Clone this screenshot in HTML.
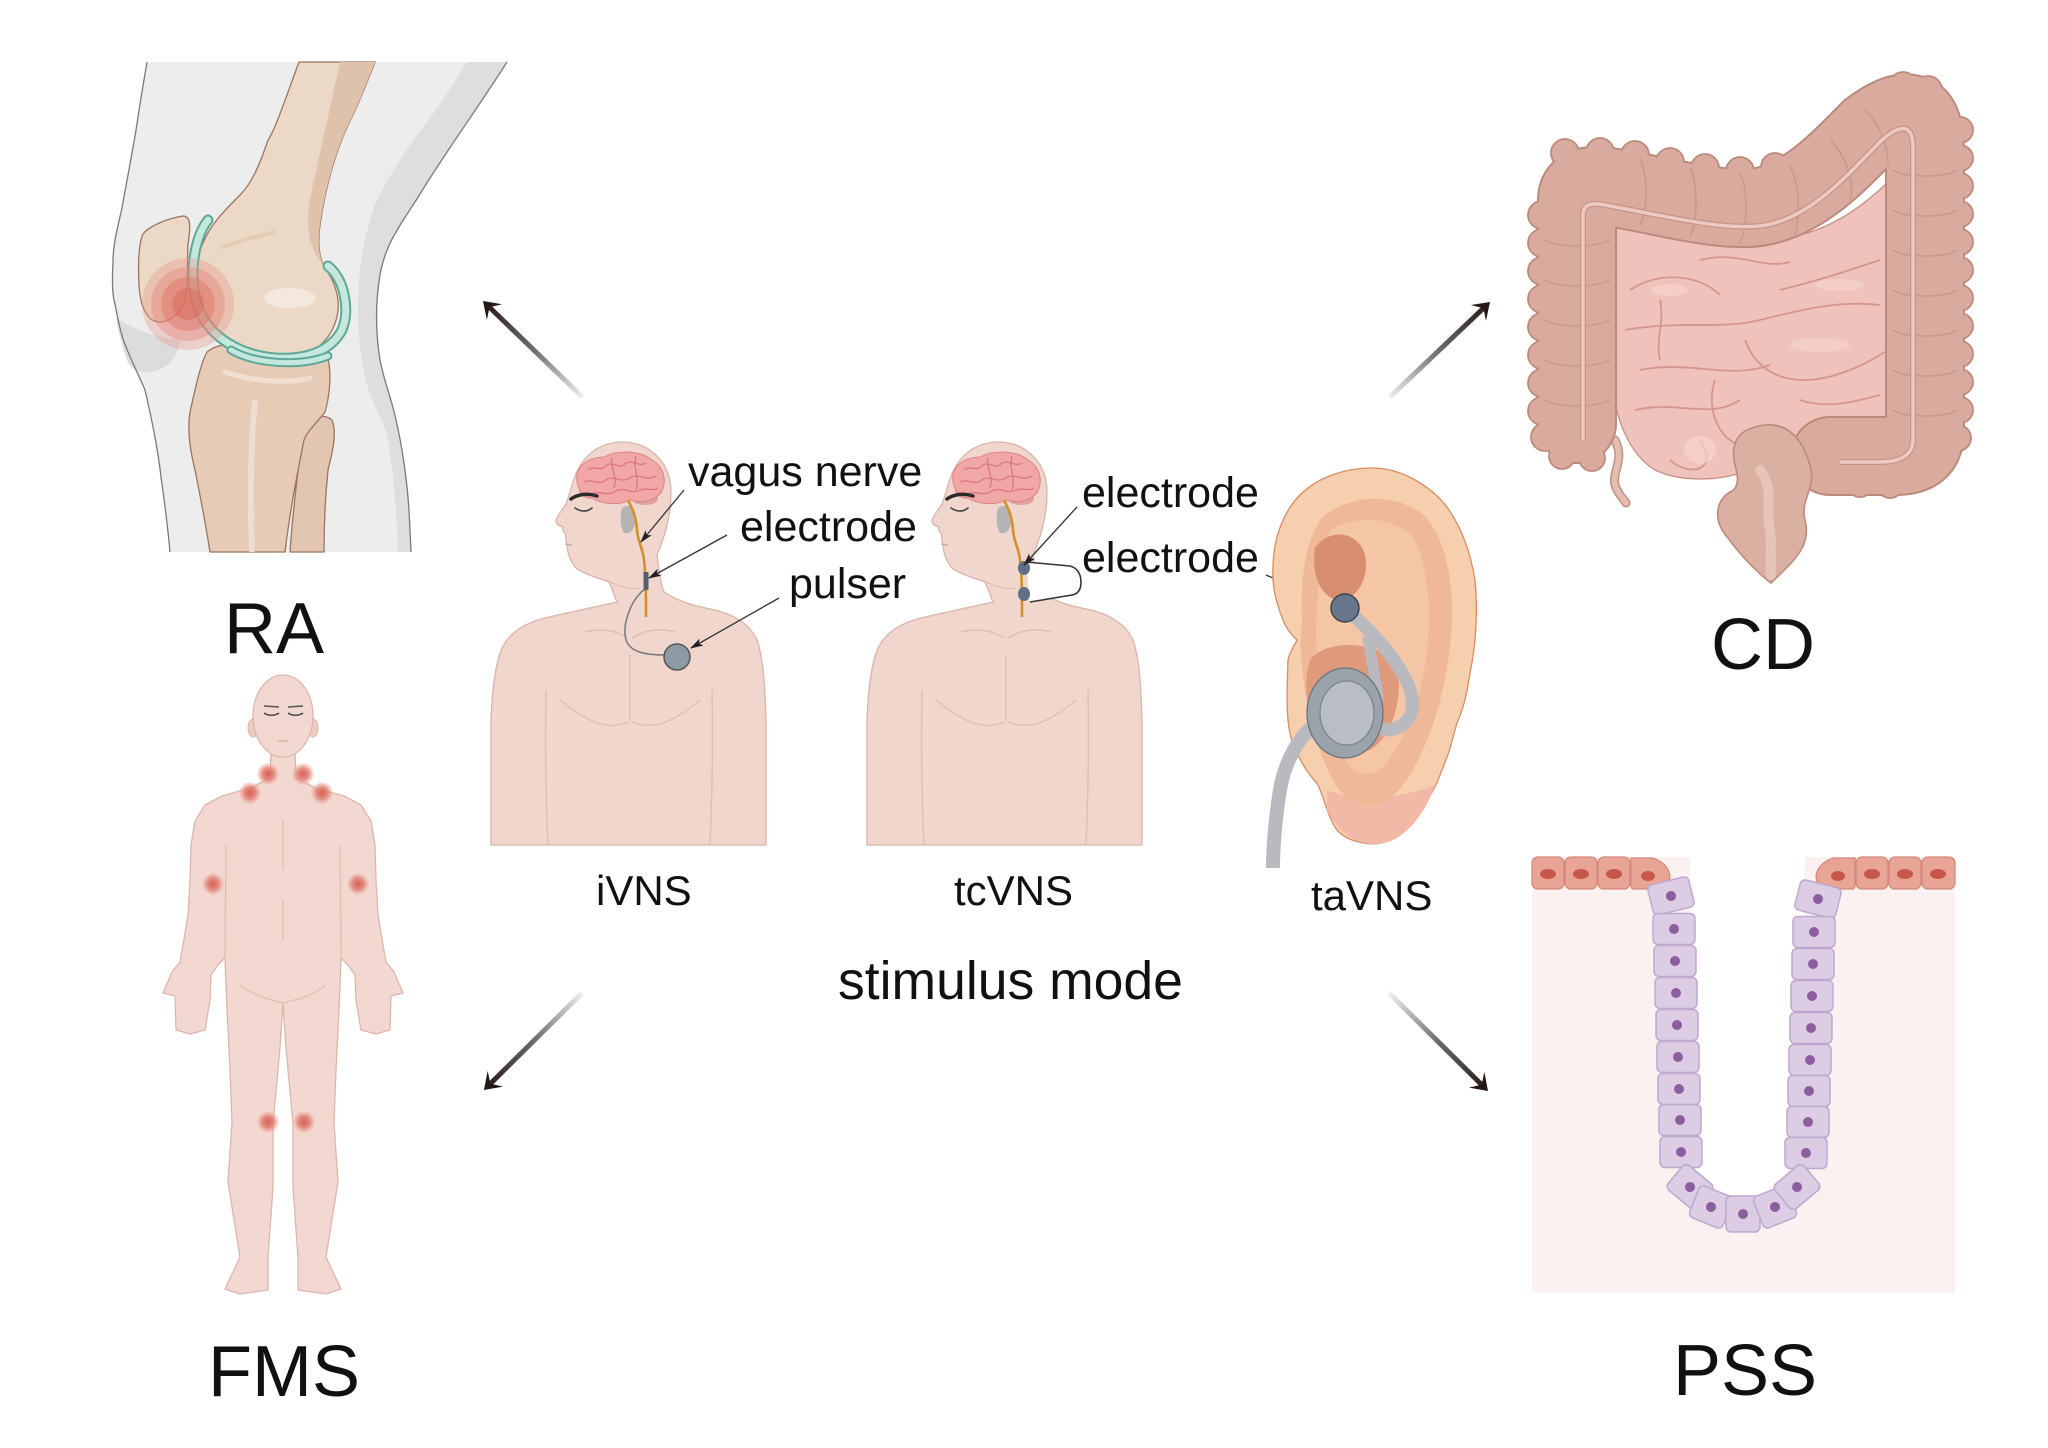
<!DOCTYPE html>
<html><head><meta charset="utf-8">
<style>
html,body{margin:0;padding:0;background:#fff;}
svg{display:block;}
text{font-family:"Liberation Sans",Arial,sans-serif;fill:#111;}
</style></head>
<body>
<svg width="2048" height="1448" viewBox="0 0 2048 1448" xmlns="http://www.w3.org/2000/svg">
<defs>
  <linearGradient id="ag" x1="-140" y1="0" x2="0" y2="0" gradientUnits="userSpaceOnUse">
    <stop offset="0" stop-color="#f2f2f2"/>
    <stop offset="0.5" stop-color="#6e6a6a"/>
    <stop offset="1" stop-color="#231815"/>
  </linearGradient>
  <radialGradient id="spot">
    <stop offset="0" stop-color="#d65f55"/>
    <stop offset="0.55" stop-color="#e3847a" stop-opacity="0.9"/>
    <stop offset="1" stop-color="#f0b4aa" stop-opacity="0.25"/>
  </radialGradient>
  <marker id="ah" markerWidth="13" markerHeight="10" refX="12" refY="5" orient="auto" markerUnits="userSpaceOnUse">
    <path d="M0,1 L13,5 L0,9 L3,5 Z" fill="#222"/>
  </marker>
</defs>

<rect width="2048" height="1448" fill="#fff"/>

<!-- ================= KNEE (RA) ================= -->
<g id="knee">
  <path d="M147,62 L507,62 C480,105 440,160 417,199 C400,225 385,245 380,275 C375,305 376,335 380,360 C385,385 392,400 396,420 C402,445 407,480 409,510 L411,552 L170,552 C168,530 165,505 161,477 C158,450 152,420 145,390 C140,378 132,362 126,347 C121,335 118,320 115,304 C112,295 112,280 113,262 C113,245 117,230 122,208 C126,185 131,160 136,130 C139,110 143,85 147,62 Z" fill="#ededed"/>
  <path d="M467,62 L507,62 C480,105 440,160 417,199 C400,225 385,245 380,275 C375,305 376,335 380,360 C385,385 392,400 396,420 C402,445 407,480 409,510 L411,552 L398,552 C396,500 392,460 387,434 C378,410 368,395 365,375 C358,345 356,310 360,269 C364,240 370,220 375,204 C390,175 405,150 421,130 C440,105 455,82 467,62 Z" fill="#dedede"/>
  <path d="M116,318 C135,330 160,338 180,340 C178,355 170,368 152,372 C140,373 130,370 127,360 C122,345 118,330 116,318 Z" fill="#dcdcdc"/>
  <path d="M147,62 C143,85 139,110 136,130 C131,160 126,185 122,208 C117,230 113,245 113,262 C112,280 112,295 115,304 C118,320 121,335 126,347 C132,362 140,378 145,390 C152,420 158,450 161,477 C165,505 168,530 170,552" fill="none" stroke="#7a7a7a" stroke-width="1.3"/>
  <path d="M507,62 C480,105 440,160 417,199 C400,225 385,245 380,275 C375,305 376,335 380,360 C385,385 392,400 396,420 C402,445 407,480 409,510 L411,552" fill="none" stroke="#7a7a7a" stroke-width="1.3"/>

  <path d="M300,430 C308,418 322,412 332,420 C337,432 333,450 328,470 C325,500 324,530 324,552 L290,552 C292,520 296,490 298,470 C298,455 298,440 300,430 Z" fill="#e2c6b1" stroke="#9c7462" stroke-width="1.3"/>
  <path d="M207,352 C215,345 230,342 250,346 C280,355 310,358 327,356 C332,370 330,395 325,412 C315,425 308,430 304,440 C298,470 290,510 285,552 L210,552 C205,520 200,495 195,470 C190,450 187,430 190,412 C195,390 200,365 207,352 Z" fill="#e6cbb7" stroke="#9c7462" stroke-width="1.3"/>
  <path d="M225,372 C250,380 285,385 310,378" fill="none" stroke="#f0dfd1" stroke-width="5" stroke-linecap="round"/>
  <path d="M255,400 C250,450 250,500 252,552" fill="none" stroke="#efddd0" stroke-width="6"/>
  <path d="M299,62 C285,100 275,130 268,140 C258,170 250,185 240,195 C225,210 210,225 203,243 C195,258 193,285 200,305 C210,330 225,343 245,352 C262,360 290,362 310,352 C330,342 340,320 338,300 C336,285 330,275 324,266 C318,255 318,240 320,225 C325,190 335,150 352,117 C360,100 368,80 375,62 Z" fill="#ebd8c6" stroke="#9c7462" stroke-width="1.3"/>
  <path d="M340,62 L375,62 C368,80 360,100 352,117 C335,150 325,190 320,225 C318,240 318,255 324,266 C310,250 305,230 310,200 C318,160 330,110 340,62 Z" fill="#dfc2ac"/>
  <ellipse cx="290" cy="298" rx="26" ry="10" fill="#f4e8dd"/>
  <path d="M222,248 C240,240 258,236 275,232" fill="none" stroke="#e4cbb6" stroke-width="4"/>
  <path d="M208,220 C192,240 188,285 200,312 C212,338 240,355 275,358 C305,360 330,352 342,330 C350,310 345,280 328,266" fill="none" stroke="#5fa897" stroke-width="11" stroke-linecap="round"/>
  <path d="M208,220 C192,240 188,285 200,312 C212,338 240,355 275,358 C305,360 330,352 342,330 C350,310 345,280 328,266" fill="none" stroke="#c4e8dd" stroke-width="7" stroke-linecap="round"/>
  <path d="M231,350 C255,364 300,367 328,356" fill="none" stroke="#5fa897" stroke-width="9" stroke-linecap="round"/>
  <path d="M231,350 C255,364 300,367 328,356" fill="none" stroke="#c4e8dd" stroke-width="5" stroke-linecap="round"/>
  <path d="M143,234 C150,225 170,218 183,216 C192,216 190,230 188,245 C187,265 188,290 185,300 C180,315 170,322 158,322 C146,320 140,305 139,285 C138,265 138,245 143,234 Z" fill="#ecd8c6" stroke="#9c7462" stroke-width="1.3"/>
  <circle cx="188" cy="304" r="46" fill="#e8948a" fill-opacity="0.35"/>
  <circle cx="188" cy="304" r="37" fill="#e38478" fill-opacity="0.4"/>
  <circle cx="188" cy="304" r="27" fill="#de7464" fill-opacity="0.45"/>
  <circle cx="188" cy="304" r="16" fill="#d9685a" fill-opacity="0.5"/>
</g>
<text x="224" y="653" font-size="72">RA</text>

<!-- ================= ARROWS ================= -->
<g transform="translate(483,301) rotate(-136)">
  <line x1="-138" y1="0" x2="-9" y2="0" stroke="url(#ag)" stroke-width="5"/>
  <path d="M0,0 L-16,-11 L-9,0 L-16,11 Z" fill="#231815"/>
</g>
<g transform="translate(1490,302) rotate(-43.5)">
  <line x1="-138" y1="0" x2="-9" y2="0" stroke="url(#ag)" stroke-width="5"/>
  <path d="M0,0 L-16,-11 L-9,0 L-16,11 Z" fill="#231815"/>
</g>
<g transform="translate(1488,1091) rotate(44.7)">
  <line x1="-140" y1="0" x2="-9" y2="0" stroke="url(#ag)" stroke-width="5"/>
  <path d="M0,0 L-16,-11 L-9,0 L-16,11 Z" fill="#231815"/>
</g>
<g transform="translate(484,1090) rotate(135.3)">
  <line x1="-138" y1="0" x2="-9" y2="0" stroke="url(#ag)" stroke-width="5"/>
  <path d="M0,0 L-16,-11 L-9,0 L-16,11 Z" fill="#231815"/>
</g>

<!-- ================= PERSON (iVNS) ================= -->
<g id="person">
  <path d="M622,442 C650,442 671,463 671,492 C671,518 664,538 657,555 C659,570 660,582 664,592 C680,603 700,607 715,610 C735,615 750,625 757,640 C764,660 765,690 766,720 L766,845 L491,845 L491,720 C492,690 495,665 502,648 C510,632 525,623 545,618 C570,612 595,607 617,602 C614,595 612,588 609,582 C598,578 584,574 576,568 C571,562 568,555 567,546 C566,540 565,537 566,534 C563,532 562,530 563,527 C559,526 556,524 556,521 C558,514 563,509 566,504 C569,496 571,489 573,482 C580,458 598,442 622,442 Z" fill="#f0d6cd" stroke="#d9b4a9" stroke-width="1.3"/>
  <path d="M546,690 C545,740 546,800 548,845 M712,690 C713,740 712,800 710,845 M630,655 L630,720 M560,700 C590,725 610,730 628,722 M700,700 C670,725 650,730 632,722 M585,632 C600,628 615,630 628,638 M675,632 C660,628 645,630 632,638" fill="none" stroke="#dfbdb3" stroke-width="1.4"/>
  <path d="M607,580 C616,586 630,590 640,588" fill="none" stroke="#e0bcb1" stroke-width="1.2"/>
  <ellipse cx="645" cy="499" rx="13" ry="6" fill="#e0a09c"/>
  <path d="M579,488 C571,470 585,457 605,457 C615,450 640,450 652,460 C666,468 667,485 660,494 C652,502 640,503 630,500 C620,506 600,504 592,498 C584,498 580,494 579,488 Z" fill="#f2a7a7" stroke="#d98084" stroke-width="1"/>
  <path d="M588,470 C594,465 600,472 606,466 C612,460 618,470 625,464 C632,458 638,468 646,463 M584,482 C592,478 598,486 606,480 C614,474 620,484 630,478 C638,472 646,482 656,476 M592,494 C600,490 608,497 616,491 C624,486 632,495 640,490 C646,487 652,492 658,488 M612,458 C610,470 618,476 614,488 M636,456 C632,468 640,476 636,490" fill="none" stroke="#d7787e" stroke-width="1.3"/>
  <path d="M571,499 C578,494 588,493 597,496" fill="none" stroke="#2b2b2b" stroke-width="3.5" stroke-linecap="round"/>
  <path d="M575,508 C581,512 587,512 592,508" fill="none" stroke="#444" stroke-width="1.6" stroke-linecap="round"/>
  <path d="M565,544 L572,545" stroke="#c9a197" stroke-width="1.2"/>
  <path d="M622,508 C628,503 636,507 636,518 C636,528 630,535 624,533 C620,528 620,515 622,508 Z" fill="#b4b4b4"/>
  <path d="M628,500 C632,508 636,515 637,530 C638,543 643,548 644,560 C646,575 646,595 646,617" fill="none" stroke="#d4902a" stroke-width="2.6"/>
</g>
<path d="M646,588 C630,600 622,625 626,640 C630,652 645,655 665,655" fill="none" stroke="#7a7a7a" stroke-width="1.5"/>
<rect x="643.5" y="572" width="5" height="18" fill="#555f6e"/>
<circle cx="677" cy="657" r="13" fill="#8e9aa6" stroke="#555" stroke-width="1.5"/>

<use href="#person" transform="translate(376,0)"/>
<path d="M1026,562 L1070,566 C1078,568 1081,575 1081,582 C1081,590 1078,594 1072,595 L1030,602" fill="#fff" stroke="#333" stroke-width="1.6"/>
<ellipse cx="1024" cy="568" rx="6" ry="7" fill="#5f6f85"/>
<ellipse cx="1024" cy="594" rx="6" ry="7" fill="#5f6f85"/>

<g stroke="#333" stroke-width="1.3" fill="none">
  <line x1="684" y1="490" x2="641" y2="542" marker-end="url(#ah)"/>
  <line x1="727" y1="535" x2="649" y2="578" marker-end="url(#ah)"/>
  <line x1="779" y1="598" x2="691" y2="648" marker-end="url(#ah)"/>
  <line x1="1077" y1="507" x2="1024" y2="565" marker-end="url(#ah)"/>
  <line x1="1266" y1="575" x2="1331" y2="603" marker-end="url(#ah)"/>
</g>

<text x="688" y="486" font-size="43">vagus nerve</text>
<text x="740" y="541" font-size="43">electrode</text>
<text x="789" y="598" font-size="43">pulser</text>
<text x="1082" y="507" font-size="43">electrode</text>
<text x="1082" y="572" font-size="43">electrode</text>
<text x="596" y="905" font-size="42">iVNS</text>
<text x="954" y="905" font-size="42">tcVNS</text>
<text x="1311" y="910" font-size="42">taVNS</text>
<text x="838" y="999" font-size="53.5">stimulus mode</text>

<!-- ================= EAR (taVNS) ================= -->
<g id="ear">
  <path d="M1373,468 C1400,468 1430,485 1447,507 C1460,525 1470,550 1475,580 C1478,610 1476,645 1470,673 C1466,700 1462,712 1457,723 C1452,740 1450,750 1447,757 C1440,775 1435,790 1427,800 C1415,820 1405,833 1390,840 C1375,848 1350,842 1340,833 C1330,825 1325,800 1318,785 C1305,770 1293,750 1290,733 C1286,715 1287,690 1288,660 C1290,650 1295,645 1297,640 C1292,635 1287,630 1283,620 C1275,600 1272,585 1273,565 C1274,535 1285,510 1300,495 C1315,480 1340,468 1373,468 Z" fill="#f6cfae" stroke="#d98c62" stroke-width="1.3"/>
  <path d="M1327,790 C1350,800 1400,800 1435,785 C1425,815 1405,838 1385,843 C1360,848 1340,835 1327,810 Z" fill="#f2b9a6"/>
  <path d="M1320,520 C1345,495 1390,492 1420,512 C1442,530 1452,570 1452,610 C1452,660 1440,710 1425,745 C1410,780 1395,800 1375,805 C1355,808 1340,795 1330,775 C1318,750 1310,720 1305,690 C1300,660 1300,640 1302,620 C1300,580 1305,545 1320,520 Z" fill="#efb896"/>
  <path d="M1330,530 C1355,515 1395,515 1415,540 C1430,570 1432,620 1425,665 C1418,710 1400,750 1380,770 C1362,780 1348,770 1340,750 C1330,725 1322,700 1318,670 C1314,630 1316,570 1330,530 Z" fill="#f4c6a6"/>
  <path d="M1315,548 C1328,528 1358,530 1365,555 C1370,580 1355,600 1340,600 C1325,600 1310,580 1315,548 Z" fill="#d78e6f"/>
  <path d="M1310,660 C1325,640 1370,640 1395,660 C1405,690 1395,735 1370,750 C1345,760 1318,740 1310,715 C1305,695 1305,675 1310,660 Z" fill="#de9a7b"/>
  <path d="M1345,608 C1368,628 1400,660 1410,690 C1418,715 1405,730 1385,730" fill="none" stroke="#b9bac0" stroke-width="13" stroke-linecap="round"/>
  <path d="M1368,640 C1372,660 1376,680 1378,700" fill="none" stroke="#b9bac0" stroke-width="11" stroke-linecap="round"/>
  <path d="M1318,722 C1300,735 1285,760 1280,790 C1275,820 1273,850 1273,868" fill="none" stroke="#b9bac0" stroke-width="14"/>
  <ellipse cx="1345" cy="713" rx="38" ry="45" fill="#9aa3ac" stroke="#6a7480" stroke-width="1.3"/>
  <ellipse cx="1347" cy="713" rx="27" ry="32" fill="#babec4" stroke="#7a8490" stroke-width="1.3"/>
  <circle cx="1345" cy="608" r="14" fill="#67768a" stroke="#3c4450" stroke-width="1.5"/>
</g>

<!-- ================= COLON (CD) ================= -->
<g id="colon">
  <path d="M1612,220 C1680,235 1740,250 1800,235 C1840,225 1870,200 1890,180 L1890,430 C1870,440 1845,440 1820,440 L1800,445 C1770,440 1755,450 1748,470 C1720,482 1680,482 1655,470 C1630,455 1615,420 1612,380 Z" fill="#efc3bb" stroke="#c98f85" stroke-width="1.3"/>
  <g fill="none" stroke="#d4968c" stroke-width="1.8">
    <path d="M1630,290 C1660,270 1700,275 1720,295"/>
    <path d="M1625,330 C1680,320 1720,330 1760,320 C1800,310 1840,300 1880,305"/>
    <path d="M1700,260 C1740,250 1760,270 1790,262"/>
    <path d="M1640,370 C1690,360 1730,380 1770,365"/>
    <path d="M1745,340 C1760,380 1800,390 1850,370 C1870,362 1880,355 1888,350"/>
    <path d="M1635,410 C1680,400 1710,420 1740,400"/>
    <path d="M1700,440 C1720,470 1690,478 1670,460"/>
    <path d="M1800,400 C1830,410 1860,400 1880,395"/>
    <path d="M1780,290 C1820,280 1850,270 1880,260"/>
    <path d="M1715,380 C1705,410 1720,440 1740,445"/>
    <path d="M1660,300 C1665,320 1655,340 1660,360"/>
  </g>
  <g fill="#f6d3cc" opacity="0.7">
    <ellipse cx="1670" cy="290" rx="18" ry="6"/>
    <ellipse cx="1820" cy="345" rx="30" ry="7"/>
    <ellipse cx="1700" cy="450" rx="16" ry="14"/>
    <ellipse cx="1840" cy="285" rx="25" ry="6"/>
  </g>
  <path d="M1615,440 C1625,460 1612,470 1615,485 C1618,495 1625,500 1626,503" fill="none" stroke="#c08f82" stroke-width="9" stroke-linecap="round"/>
  <path d="M1615,440 C1625,460 1612,470 1615,485 C1618,495 1625,500 1626,503" fill="none" stroke="#e6bdb2" stroke-width="6" stroke-linecap="round"/>
  <path d="M1577,424 L1577,200 C1577,186 1590,184 1610,187 C1660,195 1710,210 1750,208 C1800,205 1840,160 1870,130 C1890,115 1908,108 1918,118 C1925,128 1925,140 1925,160 L1925,430 C1925,450 1915,456 1895,456 L1830,456" fill="none" stroke="#bb8a7c" stroke-width="80" stroke-linecap="round" stroke-linejoin="round"/>
  <g fill="#d9ab9e" stroke="#bb8a7c" stroke-width="1.8">
    <circle cx="1542" cy="215" r="14"/><circle cx="1542" cy="243" r="14"/><circle cx="1542" cy="271" r="14"/><circle cx="1542" cy="299" r="14"/><circle cx="1542" cy="327" r="14"/><circle cx="1542" cy="355" r="14"/><circle cx="1542" cy="383" r="14"/><circle cx="1542" cy="411" r="14"/><circle cx="1545" cy="437" r="14"/>
    <circle cx="1562" cy="456" r="13"/><circle cx="1592" cy="458" r="13"/>
    <circle cx="1960" cy="130" r="13"/><circle cx="1960" cy="158" r="13"/><circle cx="1960" cy="186" r="13"/><circle cx="1960" cy="214" r="13"/><circle cx="1960" cy="242" r="13"/><circle cx="1960" cy="270" r="13"/><circle cx="1960" cy="298" r="13"/><circle cx="1960" cy="326" r="13"/><circle cx="1960" cy="354" r="13"/><circle cx="1960" cy="382" r="13"/><circle cx="1960" cy="410" r="13"/><circle cx="1958" cy="438" r="13"/>
    <circle cx="1565" cy="153" r="14"/><circle cx="1600" cy="152" r="14"/><circle cx="1635" cy="155" r="14"/><circle cx="1670" cy="162" r="14"/><circle cx="1705" cy="168" r="14"/><circle cx="1740" cy="171" r="14"/><circle cx="1775" cy="167" r="14"/><circle cx="1808" cy="156" r="14"/><circle cx="1835" cy="136" r="14"/><circle cx="1858" cy="114" r="14"/><circle cx="1880" cy="96" r="14"/><circle cx="1903" cy="86" r="14"/><circle cx="1928" cy="90" r="14"/>
    <circle cx="1860" cy="484" r="13"/><circle cx="1890" cy="485" r="13"/><circle cx="1918" cy="478" r="13"/>
  </g>
  <path d="M1577,424 L1577,200 C1577,186 1590,184 1610,187 C1660,195 1710,210 1750,208 C1800,205 1840,160 1870,130 C1890,115 1908,108 1918,118 C1925,128 1925,140 1925,160 L1925,430 C1925,450 1915,456 1895,456 L1830,456" fill="none" stroke="#d9ab9e" stroke-width="76" stroke-linecap="round" stroke-linejoin="round"/>
  <g fill="none" stroke="#c7998b" stroke-width="1.5">
    <path d="M1545,240 C1560,248 1595,248 1610,240"/><path d="M1545,280 C1560,288 1595,288 1610,280"/><path d="M1545,320 C1560,328 1595,328 1610,320"/><path d="M1545,360 C1560,368 1595,368 1610,360"/><path d="M1545,400 C1560,408 1595,408 1610,400"/>
    <path d="M1893,170 C1905,178 1945,178 1958,170"/><path d="M1893,210 C1905,218 1945,218 1958,210"/><path d="M1893,250 C1905,258 1945,258 1958,250"/><path d="M1893,290 C1905,298 1945,298 1958,290"/><path d="M1893,330 C1905,338 1945,338 1958,330"/><path d="M1893,370 C1905,378 1945,378 1958,370"/><path d="M1893,410 C1905,418 1945,418 1958,410"/>
    <path d="M1640,158 C1648,175 1648,210 1640,225"/><path d="M1690,168 C1698,185 1698,220 1690,236"/><path d="M1740,172 C1748,190 1748,225 1740,244"/><path d="M1790,166 C1800,185 1800,215 1795,235"/><path d="M1830,140 C1845,155 1855,180 1850,200"/><path d="M1865,110 C1880,125 1888,145 1888,165"/>
  </g>
  <path d="M1583,440 L1583,215 C1583,205 1590,202 1605,205 C1660,215 1720,230 1760,226 C1810,220 1850,172 1880,142 C1898,125 1912,122 1913,145 L1913,440 C1913,455 1900,462 1880,462 L1840,462" fill="none" stroke="#c49386" stroke-width="6"/>
  <path d="M1583,440 L1583,215 C1583,205 1590,202 1605,205 C1660,215 1720,230 1760,226 C1810,220 1850,172 1880,142 C1898,125 1912,122 1913,145 L1913,440 C1913,455 1900,462 1880,462 L1840,462" fill="none" stroke="#ecc9c2" stroke-width="3.5"/>
  <path d="M1752,428 C1775,420 1800,425 1811,469 C1815,490 1800,500 1805,520 C1812,545 1795,560 1771,583 C1760,575 1740,555 1728,538 C1712,520 1716,500 1730,492 C1740,488 1738,475 1735,465 C1730,445 1738,432 1752,428 Z" fill="#dab0a3" stroke="#bb8a7c" stroke-width="1.6"/>
  <path d="M1760,470 C1775,490 1765,510 1770,530 C1772,545 1770,560 1771,575" fill="none" stroke="#e6c4b9" stroke-width="10" stroke-linecap="round"/>
</g>
<text x="1711" y="669" font-size="72">CD</text>

<!-- ================= PSS (crypt) ================= -->
<g id="pss">
  <rect x="1532" y="857" width="423" height="436" fill="#fbf1f0"/>
  <path d="M1690,857 L1693,1160 C1693,1195 1718,1205 1745,1205 C1772,1205 1797,1190 1797,1160 L1805,857 Z" fill="#ffffff"/>
  <g fill="#e8a596" stroke="#d4897a" stroke-width="1.3">
    <rect x="1532" y="857" width="32" height="32" rx="6"/>
    <rect x="1565" y="857" width="32" height="32" rx="6"/>
    <rect x="1598" y="857" width="32" height="32" rx="6"/>
    <path d="M1631,858 L1652,858 C1664,861 1674,872 1668,884 L1660,889 L1634,889 Q1631,889 1631,885 Z"/>
    <path d="M1855,858 L1834,858 C1822,861 1812,872 1818,884 L1826,889 L1852,889 Q1855,889 1855,885 Z"/>
    <rect x="1856" y="857" width="32" height="32" rx="6"/>
    <rect x="1889" y="857" width="32" height="32" rx="6"/>
    <rect x="1922" y="857" width="33" height="32" rx="6"/>
  </g>
  <g fill="#c8574b">
    <ellipse cx="1548" cy="874" rx="8" ry="5"/><ellipse cx="1581" cy="874" rx="8" ry="5"/><ellipse cx="1614" cy="874" rx="8" ry="5"/><ellipse cx="1648" cy="876" rx="7" ry="5"/>
    <ellipse cx="1838" cy="876" rx="7" ry="5"/><ellipse cx="1872" cy="874" rx="8" ry="5"/><ellipse cx="1905" cy="874" rx="8" ry="5"/><ellipse cx="1938" cy="874" rx="8" ry="5"/>
  </g>
  <g id="cells" fill="#dccde5" stroke="#bea8cf" stroke-width="1.5">
    <g transform="translate(1671,896) rotate(-14)"><rect x="-21" y="-15.5" width="42" height="31" rx="5"/><circle r="5" fill="#8d5e9e" stroke="none"/></g>
    <g transform="translate(1674,929)"><rect x="-21" y="-15.5" width="42" height="31" rx="5"/><circle r="5" fill="#8d5e9e" stroke="none"/></g>
    <g transform="translate(1675,961)"><rect x="-21" y="-15.5" width="42" height="31" rx="5"/><circle r="5" fill="#8d5e9e" stroke="none"/></g>
    <g transform="translate(1676,993)"><rect x="-21" y="-15.5" width="42" height="31" rx="5"/><circle r="5" fill="#8d5e9e" stroke="none"/></g>
    <g transform="translate(1677,1025)"><rect x="-21" y="-15.5" width="42" height="31" rx="5"/><circle r="5" fill="#8d5e9e" stroke="none"/></g>
    <g transform="translate(1678,1057)"><rect x="-21" y="-15.5" width="42" height="31" rx="5"/><circle r="5" fill="#8d5e9e" stroke="none"/></g>
    <g transform="translate(1679,1089)"><rect x="-21" y="-15.5" width="42" height="31" rx="5"/><circle r="5" fill="#8d5e9e" stroke="none"/></g>
    <g transform="translate(1680,1120)"><rect x="-21" y="-15.5" width="42" height="31" rx="5"/><circle r="5" fill="#8d5e9e" stroke="none"/></g>
    <g transform="translate(1681,1152)"><rect x="-21" y="-15.5" width="42" height="31" rx="5"/><circle r="5" fill="#8d5e9e" stroke="none"/></g>
    <g transform="translate(1818,899) rotate(14)"><rect x="-21" y="-15.5" width="42" height="31" rx="5"/><circle r="5" fill="#8d5e9e" stroke="none"/></g>
    <g transform="translate(1814,932)"><rect x="-21" y="-15.5" width="42" height="31" rx="5"/><circle r="5" fill="#8d5e9e" stroke="none"/></g>
    <g transform="translate(1813,964)"><rect x="-21" y="-15.5" width="42" height="31" rx="5"/><circle r="5" fill="#8d5e9e" stroke="none"/></g>
    <g transform="translate(1812,996)"><rect x="-21" y="-15.5" width="42" height="31" rx="5"/><circle r="5" fill="#8d5e9e" stroke="none"/></g>
    <g transform="translate(1811,1028)"><rect x="-21" y="-15.5" width="42" height="31" rx="5"/><circle r="5" fill="#8d5e9e" stroke="none"/></g>
    <g transform="translate(1810,1060)"><rect x="-21" y="-15.5" width="42" height="31" rx="5"/><circle r="5" fill="#8d5e9e" stroke="none"/></g>
    <g transform="translate(1809,1091)"><rect x="-21" y="-15.5" width="42" height="31" rx="5"/><circle r="5" fill="#8d5e9e" stroke="none"/></g>
    <g transform="translate(1808,1122)"><rect x="-21" y="-15.5" width="42" height="31" rx="5"/><circle r="5" fill="#8d5e9e" stroke="none"/></g>
    <g transform="translate(1806,1153)"><rect x="-21" y="-15.5" width="42" height="31" rx="5"/><circle r="5" fill="#8d5e9e" stroke="none"/></g>
    <g transform="translate(1690,1187) rotate(40)"><rect x="-19" y="-16" width="38" height="32" rx="5"/><circle r="5" fill="#8d5e9e" stroke="none"/></g>
    <g transform="translate(1711,1207) rotate(22)"><rect x="-18" y="-17" width="36" height="34" rx="5"/><circle r="5" fill="#8d5e9e" stroke="none"/></g>
    <g transform="translate(1743,1214)"><rect x="-17" y="-18" width="34" height="36" rx="5"/><circle r="5" fill="#8d5e9e" stroke="none"/></g>
    <g transform="translate(1775,1207) rotate(-22)"><rect x="-18" y="-17" width="36" height="34" rx="5"/><circle r="5" fill="#8d5e9e" stroke="none"/></g>
    <g transform="translate(1797,1187) rotate(-40)"><rect x="-19" y="-16" width="38" height="32" rx="5"/><circle r="5" fill="#8d5e9e" stroke="none"/></g>
  </g>
</g>
<text x="1673" y="1395" font-size="72">PSS</text>

<!-- ================= FMS body ================= -->
<g id="fms">
  <path d="M271,752 L270,778 L250,788 L222,796 L205,805 L195,821 L191,845 L190,880 L188,915 L183,945 L180,962 L172,972 L163,993 L175,996 L176,1030 L190,1034 L205,1030 L210,1000 L211,975 L218,965 L225,958 L226,985 L227,1010 L230,1070 L232,1123 L228,1182 L240,1257 L225,1289 L240,1294 L268,1290 L268,1257 L273,1187 L273,1123 L280,1048 L283,1003 L286,1048 L293,1123 L293,1187 L298,1257 L298,1290 L326,1294 L341,1289 L326,1257 L338,1182 L334,1123 L336,1070 L339,1010 L340,985 L341,958 L348,965 L355,975 L356,1000 L361,1030 L376,1034 L390,1030 L391,996 L403,993 L394,972 L386,962 L383,945 L378,915 L376,880 L375,845 L371,821 L361,805 L344,796 L316,788 L296,778 L295,752 Z" fill="#f2d8d0" stroke="#dcb6ab" stroke-width="1.3" stroke-linejoin="round"/>
  <path d="M226,845 L225,958 M340,845 L341,958 M283,820 L283,870 M283,900 L283,940 M240,985 C260,1000 275,1000 283,1003 M326,985 C306,1000 291,1000 283,1003" fill="none" stroke="#e1bfb5" stroke-width="1.3"/>
  <ellipse cx="253" cy="728" rx="5" ry="9" fill="#ecccc3" stroke="#dcb6ab"/>
  <ellipse cx="313" cy="728" rx="5" ry="9" fill="#ecccc3" stroke="#dcb6ab"/>
  <ellipse cx="283" cy="716" rx="30" ry="41" fill="#f2d8d0" stroke="#dcb6ab" stroke-width="1.3"/>
  <path d="M264,706 L279,707 M288,707 L303,706" stroke="#555" stroke-width="1.5" fill="none"/>
  <path d="M264,713 C268,716 275,716 279,713 M288,713 C292,716 299,716 303,713" stroke="#444" stroke-width="1.5" fill="none"/>
  <path d="M278,741 L288,741" stroke="#d3aaa0" stroke-width="1.3"/>
  <g fill="url(#spot)">
    <circle cx="268" cy="774" r="11"/><circle cx="303" cy="774" r="11"/>
    <circle cx="250" cy="793" r="11"/><circle cx="322" cy="793" r="11"/>
    <circle cx="213" cy="884" r="11"/><circle cx="358" cy="884" r="11"/>
    <circle cx="268" cy="1122" r="11"/><circle cx="304" cy="1122" r="11"/>
  </g>
</g>
<text x="208" y="1396" font-size="72">FMS</text>

</svg>
</body></html>
